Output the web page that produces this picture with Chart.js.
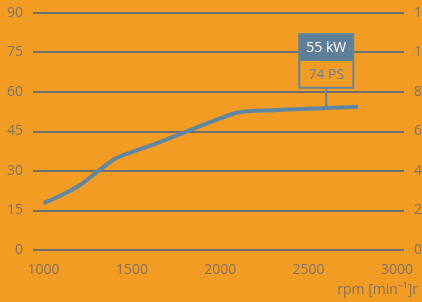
<!DOCTYPE html>
<html><head><meta charset="utf-8">
<script src="https://cdn.jsdelivr.net/npm/chart.js@4"></script>
<style>
html,body{margin:0;padding:0;background:#f39c23;overflow:hidden;width:422px;height:302px;}
#wrap{position:absolute;left:0;top:0;width:450px;height:302px;}
</style></head>
<body><div id="wrap"><canvas id="c" width="450" height="302"></canvas></div>
<script>
const rpm = [1000, 1100, 1200, 1300, 1400, 1500, 1600, 1800, 2000, 2100, 2300, 2500, 2600, 2780];
const powerKW = [17.8, 20.8, 24.4, 29.5, 34.5, 37.2, 39.5, 44.8, 50.0, 52.2, 53.1, 53.6, 53.9, 54.4];
const xTicks = [1000, 1500, 2000, 2500, 3000];
const kwTicks = [0, 15, 30, 45, 60, 75, 90];
const psTicks = [0, 20, 40, 60, 80, 100, 120];
const peakRpm = 2600;
const peakKW = 55;
const peakPS = 74;
const xTitle = 'rpm [min\u207B\u00B9]r';

const FONT = '"Open Sans", sans-serif';
const TXT = '#7d7466';
const GRID = '#6f6f6f';
const BLUE = '#5f86a2';

const annot = {
  id: 'annot',
  afterDatasetsDraw(chart) {
    const ctx = chart.ctx, x = chart.scales.x, y = chart.scales.y;
    const idx = rpm.indexOf(peakRpm);
    const cx = x.getPixelForValue(peakRpm);
    const cy = y.getPixelForValue(powerKW[idx]);
    const top = y.getPixelForValue(82), bot = y.getPixelForValue(61.6);
    const mid = (top + bot) / 2;
    const w = 54, l = cx - w / 2;
    ctx.save();
    ctx.strokeStyle = BLUE; ctx.lineWidth = 2;
    ctx.beginPath(); ctx.moveTo(cx, bot); ctx.lineTo(cx, cy); ctx.stroke();
    ctx.fillStyle = '#5f7f99';
    ctx.fillRect(l, top, w, mid - top);
    ctx.strokeRect(l, top, w, bot - top);
    ctx.font = '500 14px ' + FONT;
    ctx.textAlign = 'center'; ctx.textBaseline = 'middle';
    ctx.fillStyle = '#ffffff';
    ctx.fillText(peakKW + ' kW', cx, (top + mid) / 2 + 1);
    ctx.fillStyle = '#6b819a';
    ctx.fillText(peakPS + ' PS', cx, (mid + bot) / 2 + 1);
    ctx.font = '14px ' + FONT;
    ctx.fillStyle = TXT;
    ctx.textAlign = 'right';
    ctx.fillText(xTitle, chart.chartArea.right + 14, 290);
    ctx.restore();
  }
};

const tickFont = {family: FONT, size: 14};
const fitY = w => s => { s.width = w; s.paddingTop = 0; s.paddingBottom = 0; };
new Chart(document.getElementById('c'), {
  type: 'line',
  data: {
    datasets: [{
      data: rpm.map((r, i) => ({x: r, y: powerKW[i]})),
      borderColor: BLUE, borderWidth: 4, pointRadius: 0,
      cubicInterpolationMode: 'monotone', fill: false, yAxisID: 'y'
    }]
  },
  options: {
    responsive: false, animation: false,
    layout: {padding: {top: 13, left: 0, right: 0, bottom: 0}},
    plugins: {legend: {display: false}, tooltip: {enabled: false}},
    scales: {
      x: {
        type: 'linear', min: 940, max: 3040,
        afterBuildTicks: s => { s.ticks = xTicks.map(v => ({value: v})); },
        afterFit: s => { s.height = 52; s.paddingLeft = 0; s.paddingRight = 0; },
        grid: {display: false, drawTicks: false},
        border: {display: false},
        ticks: {color: TXT, font: tickFont, padding: 12, maxRotation: 0, callback: v => String(v)}
      },
      y: {
        position: 'left', min: 0, max: 90,
        afterBuildTicks: s => { s.ticks = kwTicks.map(v => ({value: v})); },
        afterFit: fitY(33),
        grid: {color: GRID, lineWidth: 2, drawTicks: false},
        border: {display: false},
        ticks: {color: TXT, font: tickFont, padding: 10, callback: v => String(v)}
      },
      y1: {
        position: 'right', min: 0, max: 120,
        afterBuildTicks: s => { s.ticks = psTicks.map(v => ({value: v})); },
        afterFit: fitY(46),
        grid: {display: false, drawTicks: false},
        border: {display: false},
        ticks: {color: TXT, font: tickFont, padding: 10, callback: v => String(v)}
      }
    }
  },
  plugins: [annot]
});
</script></body></html>
